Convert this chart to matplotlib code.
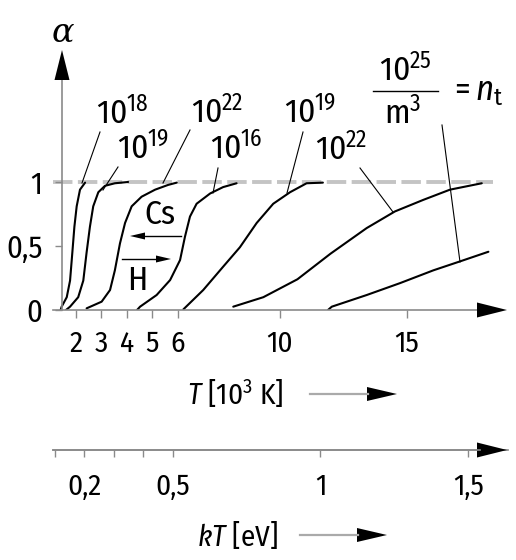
import matplotlib
matplotlib.use('Agg')
import matplotlib.pyplot as plt
from matplotlib import font_manager as fm
from matplotlib.patches import Polygon
from matplotlib.lines import Line2D

# schmale Schrift suchen, sonst Liberation Sans
installed = {f.name for f in fm.fontManager.ttflist}
font = next((f for f in ['Fira Sans Condensed', 'PT Sans Narrow', 'Asap Condensed',
                         'Archivo Narrow', 'Liberation Sans Narrow', 'Liberation Sans']
             if f in installed), 'DejaVu Sans')
plt.rcParams['font.family'] = [font, 'DejaVu Sans']
plt.rcParams['mathtext.fontset'] = 'custom'
plt.rcParams['mathtext.rm'] = font
plt.rcParams['mathtext.it'] = font + ':italic'

# Ionisationsgrad alpha ueber T [10^3 K]; Cs links, H rechts
cs18_T = [1.40, 1.44, 1.64, 1.77, 1.86, 1.94, 2.03, 2.16, 2.36]
cs18_a = [0.0, 0.026, 0.10, 0.23, 0.45, 0.65, 0.81, 0.94, 0.995]

cs19_T = [1.61, 1.77, 2.09, 2.29, 2.42, 2.55, 2.68, 2.88, 3.14, 3.53, 4.05]
cs19_a = [0.0, 0.026, 0.10, 0.23, 0.45, 0.65, 0.81, 0.92, 0.97, 0.99, 1.0]

cs22_T = [2.42, 3.01, 3.34, 3.53, 3.73, 3.93, 4.19, 4.58, 5.11, 5.62, 5.96]
cs22_a = [0.013, 0.065, 0.156, 0.31, 0.52, 0.68, 0.81, 0.885, 0.94, 0.977, 0.995]

h16_T = [4.40, 4.52, 5.17, 5.70, 6.09, 6.28, 6.48, 6.74, 7.27, 7.78, 8.31]
h16_a = [0.0, 0.026, 0.117, 0.234, 0.39, 0.57, 0.73, 0.83, 0.91, 0.96, 0.99]

h19_T = [6.22, 7.00, 7.79, 8.44, 9.10, 9.75, 10.41, 11.06, 11.70]
h19_a = [0.005, 0.156, 0.34, 0.49, 0.68, 0.83, 0.92, 0.99, 0.995]

h22_T = [8.18, 9.36, 10.7, 12.0, 13.42, 14.53, 15.64, 16.69, 17.94]
h22_a = [0.026, 0.10, 0.24, 0.44, 0.64, 0.77, 0.86, 0.94, 0.99]

h25_T = [11.9, 12.05, 13.42, 14.73, 16.04, 17.09, 18.20]
h25_a = [0.0, 0.026, 0.117, 0.21, 0.31, 0.38, 0.455]

curves = [(cs18_T, cs18_a), (cs19_T, cs19_a), (cs22_T, cs22_a),
          (h16_T, h16_a), (h19_T, h19_a), (h22_T, h22_a), (h25_T, h25_a)]

T_ticks = [2, 3, 4, 5, 6, 10, 15]
a_ticks = [0, 0.5, 1]
a_labels = ['0', '0,5', '1']
kT_ticks = [0.1, 0.2, 0.3, 0.4, 0.5, 1, 1.5]
kT_labels = ['', '0,2', '', '', '0,5', '1', '1,5']
K_PER_EV = 11.604  # 10^3 K je eV

W, H = 516, 560
GREY = '#8a8a8a'


def fp(x, y):
    # Bildpixel (oben links) -> Figure-Koordinaten
    return x / W, 1 - y / H


fig = plt.figure(figsize=(W / 100, H / 100), dpi=100)
ax = fig.add_axes([53 / W, (H - 310) / H, (508 - 53) / W, 260 / H])
ax.set_xlim(1.10, 18.97)
ax.set_ylim(0, 2.031)

for c_T, c_a in curves:
    ax.plot(c_T, c_a, color='black', lw=1.5, solid_capstyle='round')

ax.axhline(1, xmin=0, xmax=(493 - 53) / (508 - 53), color='#c4c4c4', lw=2.8,
           linestyle=(0, (5, 1.4)), zorder=0)

for s in ['top', 'right']:
    ax.spines[s].set_visible(False)
ax.spines['left'].set_position(('data', 1.45))
ax.spines['left'].set_bounds(0, 1.80)
ax.spines['bottom'].set_bounds(1.10, 17.9)
for s in ['left', 'bottom']:
    ax.spines[s].set_color(GREY)
    ax.spines[s].set_linewidth(1.2)

ax.set_xticks(T_ticks)
ax.set_xticklabels([str(t) for t in T_ticks])
ax.set_yticks(a_ticks)
ax.set_yticklabels(a_labels)
ax.tick_params(axis='x', direction='out', length=6, width=1, color=GREY,
               pad=8, labelsize=21)
ax.tick_params(axis='y', direction='out', length=5, width=1, color=GREY,
               pad=9, labelsize=22)

sec = ax.secondary_xaxis((310 - 450) / 260,
                         functions=(lambda t: t / K_PER_EV, lambda e: e * K_PER_EV))
sec.set_xticks(kT_ticks)
sec.set_xticklabels(kT_labels)
sec.spines['bottom'].set_color(GREY)
sec.spines['bottom'].set_linewidth(1.2)
sec.tick_params(direction='out', length=5, width=1, color=GREY, pad=11,
                labelsize=21)


def head(tip, direction, length=30, half=7.5):
    x, y = tip
    if direction == 'up':
        pts = [(x, y), (x - half, y + length), (x + half, y + length)]
    elif direction == 'left':
        pts = [(x, y), (x + length, y - half), (x + length, y + half)]
    else:
        pts = [(x, y), (x - length, y - half), (x - length, y + half)]
    fig.add_artist(Polygon([fp(*p) for p in pts], closed=True,
                           transform=fig.transFigure, color='black', lw=0))


def line(p0, p1, color='black', lw=0.8):
    (x0, y0), (x1, y1) = fp(*p0), fp(*p1)
    fig.add_artist(Line2D([x0, x1], [y0, y1], transform=fig.transFigure,
                          color=color, lw=lw))


def txt(x, y, s, size=24, **kw):
    kw.setdefault('ha', 'center')
    kw.setdefault('va', 'center')
    fig.text(*fp(x, y), s, fontsize=size, **kw)


# Achsenpfeile
head((62, 50), 'up')
head((507, 310), 'right')
line((53, 450), (480, 450), GREY, 1.2)
head((507, 450), 'right')

txt(63, 33, 'α', size=24, family='DejaVu Serif', style='italic')

# Achsentitel
txt(235, 395, r'$T$ [10$^3$ K]', size=21)
line((310, 394), (368, 394), '#aaaaaa', 1.6)
head((397, 394), 'right', length=30, half=7)
txt(238, 536, r'$kT$ [eV]', size=21)
line((300, 535), (358, 535), '#aaaaaa', 1.6)
head((387, 535), 'right', length=30, half=7)

# Kurvenbeschriftungen mit Hinweislinien
labels = [('$10^{18}$', (122, 113), (100, 132), (82, 183)),
          ('$10^{19}$', (143, 148), (118, 167), (103, 190)),
          ('$10^{22}$', (217, 112), (190, 130), (163, 183)),
          ('$10^{16}$', (236, 148), (218, 168), (213, 193)),
          ('$10^{19}$', (310, 112), (303, 132), (287, 193)),
          ('$10^{22}$', (341, 149), (360, 168), (393, 212))]
for s, (x, y), p0, p1 in labels:
    txt(x, y, s)
    line(p0, p1)

# 10^25/m^3 = n_t
txt(405, 70, '$10^{25}$')
line((373, 91), (438, 91), 'black', 1.0)
txt(403, 113, 'm$^3$')
txt(449, 100, r'$= n_\mathrm{t}$', ha='left', va='baseline', size=25)
line((442, 125), (460, 262))

# Cs / H
txt(160, 215, 'Cs')
line((145, 236), (181, 236), 'black', 1.0)
head((130, 236), 'left', length=15, half=3.5)
txt(137, 281, 'H')
line((122, 259), (157, 259), 'black', 1.0)
head((171, 259), 'right', length=15, half=3.5)

fig.savefig('out.png', dpi=100)
